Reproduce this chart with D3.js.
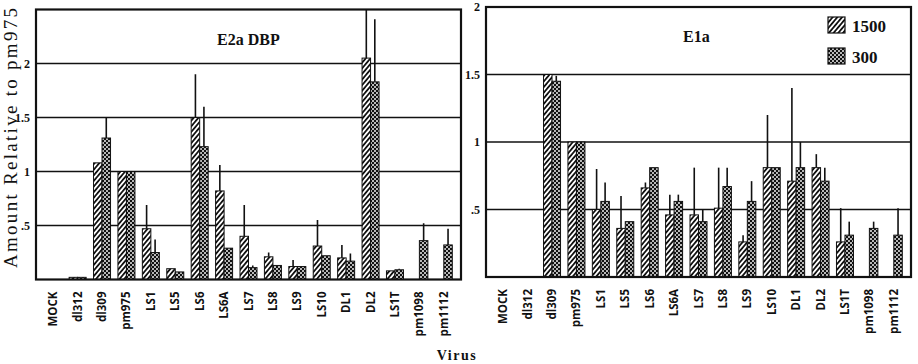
<!DOCTYPE html>
<html><head><meta charset="utf-8">
<script src="https://cdn.jsdelivr.net/npm/d3@7"></script>
<style>body{margin:0;background:#fff}svg{display:block}</style>
</head><body>
<svg id="c" width="918" height="364"></svg>
<script>
const categories = ["MOCK","dl312","dl309","pm975","LS1","LS5","LS6","LS6A","LS7","LS8","LS9","LS10","DL1","DL2","LS1T","pm1098","pm1112"];
const seriesNames = ["1500","300"];

const e2a1500    = [null,0.02,1.08,1.00,0.47,0.10,1.50,0.82,0.40,0.21,0.12,0.31,0.20,2.05,0.08,null,null];
const e2a1500Err = [null,null,null,null,0.69,null,1.90,1.06,0.69,0.25,0.18,0.55,0.32,2.60,null,null,null];
const e2a300     = [null,0.02,1.31,1.00,0.25,0.07,1.23,0.29,0.11,0.13,0.12,0.22,0.17,1.83,0.09,0.36,0.32];
const e2a300Err  = [null,null,1.50,null,0.37,null,1.60,null,0.13,null,null,null,0.24,2.41,0.10,0.52,0.47];

const e1a1500    = [null,null,1.50,1.00,0.50,0.36,0.66,0.46,0.46,0.51,0.26,0.81,0.71,0.81,0.26,null,null];
const e1a1500Err = [null,null,null,null,0.80,0.60,0.70,0.61,0.81,0.81,0.31,1.20,1.40,0.91,0.51,null,null];
const e1a300     = [null,null,1.45,1.00,0.56,0.41,0.81,0.56,0.41,0.67,0.56,0.81,0.81,0.71,0.31,0.36,0.31];
const e1a300Err  = [null,null,1.49,null,0.70,null,null,0.61,0.50,0.81,0.71,null,1.00,0.81,0.41,0.41,0.51];

const e2aTicks = [0.5,1,1.5,2];
const e2aTickLabels = [".5","1","1.5","2"];
const e1aTicks = [0.5,1,1.5,2];
const e1aTickLabels = [".5","1","1.5","2"];

const svg = d3.select("#c");
const defs = svg.append("defs");
const hatch = defs.append("pattern").attr("id","hatch").attr("patternUnits","userSpaceOnUse")
  .attr("width",3.6).attr("height",8).attr("patternTransform","rotate(40)");
hatch.append("rect").attr("width",3.6).attr("height",8).attr("fill","#fff");
hatch.append("rect").attr("x",0).attr("width",1.8).attr("height",8).attr("fill","#111");
const dots = defs.append("pattern").attr("id","dots").attr("patternUnits","userSpaceOnUse")
  .attr("width",4).attr("height",4);
dots.append("rect").attr("width",4).attr("height",4).attr("fill","#111");
dots.append("circle").attr("cx",1).attr("cy",1).attr("r",0.95).attr("fill","#fff");
dots.append("circle").attr("cx",3).attr("cy",3).attr("r",0.95).attr("fill","#fff");

function panel(cfg){
  const g = svg.append("g");
  const x = d3.scaleBand().domain(categories).range([cfg.x0+5, cfg.x1-5]);
  const y = d3.scaleLinear().domain([0,cfg.max]).range([cfg.yb, cfg.yt]);
  const clipId = "clip"+cfg.id;
  defs.append("clipPath").attr("id",clipId).append("rect")
    .attr("x",cfg.x0).attr("y",cfg.yt).attr("width",cfg.x1-cfg.x0).attr("height",cfg.yb-cfg.yt);
  g.selectAll("line.grid").data(cfg.ticks.filter(t=>t<cfg.max)).join("line")
    .attr("x1",cfg.x0).attr("x2",cfg.x1).attr("y1",d=>y(d)).attr("y2",d=>y(d))
    .attr("stroke","#111").attr("stroke-width",1.5);
  const ax = d3.axisLeft(y).tickValues(cfg.ticks).tickSize(0).tickPadding(6)
    .tickFormat((d,i)=>cfg.tickLabels[i]);
  const axg = g.append("g").attr("transform",`translate(${cfg.x0},0)`).call(ax);
  axg.select(".domain").remove();
  axg.selectAll("text").attr("font-family","Liberation Serif").attr("font-weight","bold")
    .attr("font-size",12).attr("fill","#111");
  const bw = 8.5;
  const bars = g.append("g").attr("clip-path",`url(#${clipId})`);
  const sets = [
    {vals:cfg.s1500, errs:cfg.e1500, off:-bw, fill:"url(#hatch)"},
    {vals:cfg.s300, errs:cfg.e300, off:0, fill:"url(#dots)"}
  ];
  sets.forEach(s=>{
    const data = categories.map((c,i)=>({c, v:s.vals[i], e:s.errs[i]})).filter(d=>d.v!=null);
    bars.selectAll(null).data(data.filter(d=>d.e!=null)).join("line")
      .attr("x1",d=>x(d.c)+x.bandwidth()/2+s.off+bw/2).attr("x2",d=>x(d.c)+x.bandwidth()/2+s.off+bw/2)
      .attr("y1",d=>y(d.v)).attr("y2",d=>y(d.e)).attr("stroke","#111").attr("stroke-width",1.6);
  });
  sets.forEach(s=>{
    const data = categories.map((c,i)=>({c, v:s.vals[i]})).filter(d=>d.v!=null);
    bars.selectAll(null).data(data).join("rect")
      .attr("x",d=>x(d.c)+x.bandwidth()/2+s.off).attr("width",bw)
      .attr("y",d=>y(d.v)).attr("height",d=>y(0)-y(d.v))
      .attr("fill",s.fill).attr("stroke","#111").attr("stroke-width",1);
  });
  g.append("rect").attr("x",cfg.x0).attr("y",cfg.yt).attr("width",cfg.x1-cfg.x0).attr("height",cfg.yb-cfg.yt)
    .attr("fill","none").attr("stroke","#111").attr("stroke-width",2.2);
  g.append("text").attr("x",cfg.titleX).attr("y",cfg.titleY).text(cfg.title)
    .attr("font-family","Liberation Serif").attr("font-weight","bold").attr("font-size",16).attr("fill","#111");
  g.selectAll("text.cat").data(categories).join("text")
    .attr("transform",d=>`translate(${x(d)+x.bandwidth()/2+4},${cfg.yb+12}) rotate(-90)`)
    .attr("text-anchor","end").text(d=>d)
    .attr("font-family","Open Sans").attr("font-weight","bold").attr("font-size",11.5).attr("fill","#111");
  return {x,y};
}

panel({id:"L",x0:36,x1:461,yt:9.5,yb:279.5,max:2.5,ticks:e2aTicks,tickLabels:e2aTickLabels,
  s1500:e2a1500,e1500:e2a1500Err,s300:e2a300,e300:e2a300Err,title:"E2a DBP",titleX:217,titleY:45});
panel({id:"R",x0:486,x1:911,yt:7,yb:277,max:2,ticks:e1aTicks,tickLabels:e1aTickLabels,
  s1500:e1a1500,e1500:e1a1500Err,s300:e1a300,e300:e1a300Err,title:"E1a",titleX:683,titleY:42});

const leg = svg.append("g");
const legFills = ["url(#hatch)","url(#dots)"];
seriesNames.forEach((n,i)=>{
  leg.append("rect").attr("x",828).attr("y",17+i*31).attr("width",17).attr("height",16)
    .attr("fill",legFills[i]).attr("stroke","#111").attr("stroke-width",1.2);
  leg.append("text").attr("x",852).attr("y",32+i*31).text(n)
    .attr("font-family","Liberation Serif").attr("font-weight","bold").attr("font-size",17).attr("fill","#111");
});

svg.append("text").attr("transform","translate(17,268) rotate(-90)").text("Amount  Relative  to  pm975")
  .attr("font-family","Liberation Serif").attr("font-size",19).attr("fill","#111")
  .attr("textLength",260).attr("lengthAdjust","spacing");
svg.append("text").attr("x",457).attr("y",360).attr("text-anchor","middle").text("Virus")
  .attr("font-family","Liberation Serif").attr("font-weight","bold").attr("font-size",14)
  .attr("letter-spacing",1.5).attr("fill","#111");
</script>
</body></html>
